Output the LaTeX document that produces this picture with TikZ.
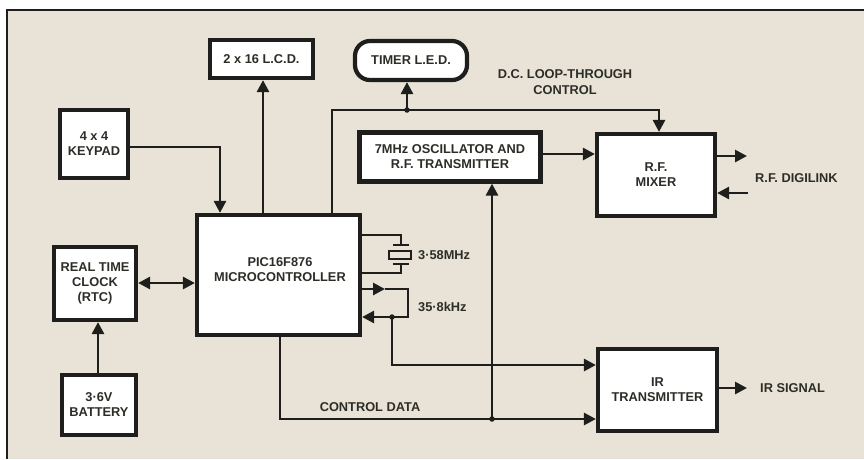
\documentclass[tikz,border=0pt]{standalone}
\usepackage{fontspec}
\setmainfont{Liberation Sans}
\usetikzlibrary{arrows.meta}
\definecolor{paper}{RGB}{232,227,214}
\definecolor{ink}{RGB}{30,30,28}
\definecolor{txt}{RGB}{45,45,40}
\begin{document}
\begin{tikzpicture}[x=1pt,y=-1pt,
  box/.style={draw=ink, line width=4.2pt, fill=white, inner sep=0pt, align=center,
    font=\fontsize{12.8pt}{15pt}\selectfont\bfseries, text=txt},
  lbl/.style={inner sep=0pt, align=center, font=\fontsize{12.8pt}{16pt}\selectfont\bfseries, text=txt},
  wire/.style={draw=ink, line width=2.8pt},
  arr/.style={wire, -{Triangle[length=12pt,width=12pt]}},
  darr/.style={wire, {Triangle[length=12pt,width=12pt]}-{Triangle[length=12pt,width=12pt]}},
  dotn/.style={circle, fill=ink, inner sep=0pt, minimum size=5.5pt}]
\useasboundingbox (0,0) rectangle (864,459);
\fill[white] (0,0) rectangle (864,459);
\fill[paper] (7,10) rectangle (864,459);
\draw[ink, line width=1.6pt] (7,459) -- (7,10) -- (864,10);

% nodes
\node[box, minimum width=103pt, minimum height=38pt] (lcd) at (261.5,59) {2 x 16 L.C.D.};
\node[box, rounded corners=15pt, minimum width=112pt, minimum height=39pt] (led) at (411,60.5) {TIMER L.E.D.};
\node[box, minimum width=68pt, minimum height=68pt] (key) at (94,144) {4 x 4\\KEYPAD};
\node[box, minimum width=163pt, minimum height=120pt] (pic) at (278.5,275) {};
\node[lbl, font=\fontsize{12.8pt}{15pt}\selectfont\bfseries] (pictext) at (280,270) {PIC16F876\\MICROCONTROLLER};
\node[box, minimum width=181pt, minimum height=49pt] (osc) at (450,157) {7MHz OSCILLATOR AND\\R.F. TRANSMITTER};
\node[box, minimum width=118pt, minimum height=82pt] (mix) at (656,175) {R.F.\\MIXER};
\node[box, minimum width=82pt, minimum height=73pt] (rtc) at (95,283.5) {REAL TIME\\CLOCK\\(RTC)};
\node[box, minimum width=74pt, minimum height=60pt] (bat) at (99,405) {3·6V\\BATTERY};
\node[box, minimum width=119pt, minimum height=82pt] (ir) at (657.5,390) {IR\\TRANSMITTER};

% labels
\node[lbl] (dcl) at (565,82) {D.C. LOOP-THROUGH\\CONTROL};
\node[lbl, anchor=west] (digi) at (755,178) {R.F. DIGILINK};
\node[lbl, anchor=west] (irs) at (760,388) {IR SIGNAL};
\node[lbl] (cdata) at (370,407) {CONTROL DATA};
\node[lbl, anchor=west] (f1) at (418,255) {3·58MHz};
\node[lbl, anchor=west] (f2) at (418,307) {35·8kHz};

% coordinates
\coordinate (dcA) at (332,110);
\coordinate (dcJ) at (407,110);
\coordinate (dcB) at (659,110);
\coordinate (vJ) at (492,419);
\coordinate (lpJ) at (392,317);
\coordinate (lpA) at (408,289);
\coordinate (lpB) at (408,317);
\coordinate (lpT) at (385,289);
\coordinate (mo) at (747,156);
\coordinate (mi) at (748,193);
\coordinate (iro) at (747,388);
\coordinate (xA) at (401,235);
\coordinate (xB) at (401,245);
\coordinate (xC) at (401,264);
\coordinate (xD) at (401,273);

% connectors
\draw[arr] (key.east |- 0,147) -| (pic.north -| 220,0);
\draw[arr] (pic.north -| 263,0) -- (lcd.south -| 263,0);
\draw[arr] (pic.north -| dcA) -- (dcA) -- (dcB) -- (mix.north -| dcB);
\draw[arr] (dcJ) -- (led.south -| dcJ);
\node[dotn] (dj) at (dcJ) {};
\draw[arr] (osc.east |- 0,154) -- (mix.west |- 0,154);
\draw[arr] (mix.east |- mo) -- (mo);
\draw[arr] (mi) -- (mix.east |- mi);
\draw[arr] (vJ) -- (osc.south -| vJ);
\draw[arr] (pic.south -| 280,0) |- (ir.west |- vJ);
\node[dotn] (vj) at (vJ) {};
\draw[arr] (lpJ) |- (ir.west |- 0,365);
\draw[arr] (pic.east |- lpT) -- (lpT);
\draw[wire] (lpT) -- (lpA) -- (lpB) -- (lpJ);
\draw[arr] (lpJ) -- (pic.east |- lpJ);
\node[dotn] (lj) at (lpJ) {};
\draw[darr] (rtc.east |- 0,283) -- (pic.west |- 0,283);
\draw[arr] (bat.north -| 98,0) -- (rtc.south -| 98,0);
\draw[arr] (ir.east |- iro) -- (iro);

% crystal
\draw[wire, line width=2.2pt] (pic.east |- xA) -- (xA) -- (xB);
\draw[wire, line width=2.2pt] (393,245) -- (409,245);
\draw[draw=ink, line width=1.8pt] (389,251) rectangle (411,259);
\draw[wire, line width=2.2pt] (393,264) -- (409,264);
\draw[wire, line width=2.2pt] (xC) -- (xD) -- (pic.east |- xD);
\end{tikzpicture}
\end{document}
